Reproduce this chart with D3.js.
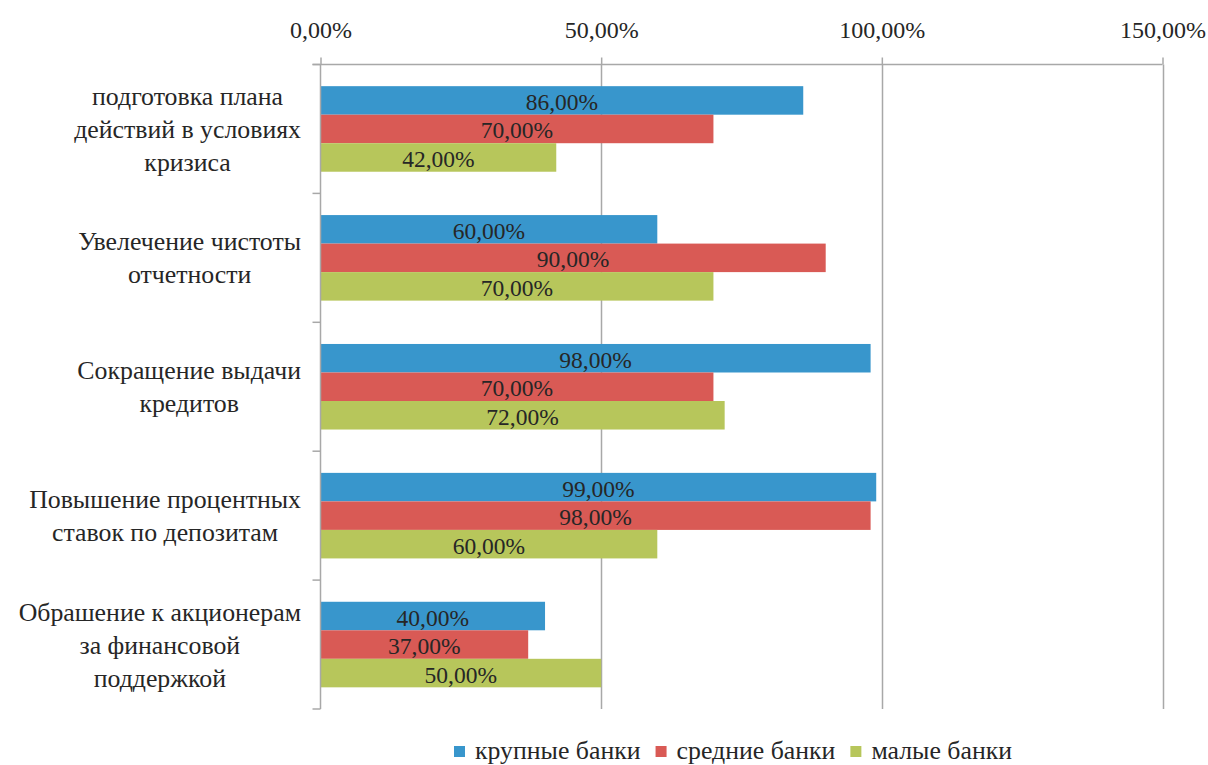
<!DOCTYPE html>
<html>
<head>
<meta charset="utf-8">
<script src="https://cdn.jsdelivr.net/npm/d3@7"></script>
</head>
<body style="margin:0;background:#fff">
<svg id="chart" width="1208" height="765"></svg>
<script>
// Categories (top to bottom), each split into display lines
const categories = [
  "подготовка плана действий в условиях кризиса",
  "Увелечение чистоты отчетности",
  "Сокращение выдачи кредитов",
  "Повышение процентных ставок по депозитам",
  "Обрашение к акционерам за финансовой поддержкой"
];
const categoryLines = [
  ["подготовка плана", "действий в условиях", "кризиса"],
  ["Увелечение чистоты", "отчетности"],
  ["Сокращение выдачи", "кредитов"],
  ["Повышение процентных", "ставок по депозитам"],
  ["Обрашение к акционерам", "за финансовой", "поддержкой"]
];
const seriesNames = ["крупные банки", "средние банки", "малые банки"];
const seriesColors = ["#3896cc", "#d95a55", "#b7c65b"];

// Values in percent, per series, in category order
const largeBanks  = [86, 60, 98, 99, 40];
const mediumBanks = [70, 90, 70, 98, 37];
const smallBanks  = [42, 70, 72, 60, 50];
const seriesValues = [largeBanks, mediumBanks, smallBanks];

const xTicks = [0, 50, 100, 150];

const svg = d3.select("#chart");
const fontFamily = '"Liberation Serif"';
const textColor = "#262626";

// Apply the shared text style to a selection of <text> elements
function textStyle(sel, size) {
  return sel.style("font-family", fontFamily)
    .style("font-size", size + "px")
    .style("fill", textColor);
}

const plotLeft = 320.5, plotRight = 1162.5, plotTop = 64.5, plotBottom = 709;

const x = d3.scaleLinear().domain([0, 150]).range([plotLeft, plotRight]);
const y0 = d3.scaleBand().domain(categories).range([plotTop, plotBottom]).padding(0);
const y1 = d3.scaleBand().domain(seriesNames).range([0, y0.bandwidth()])
  .paddingInner(0).paddingOuter(0.76);

const ru = d3.formatLocale({ decimal: ",", thousands: " ", grouping: [3], currency: ["", ""] });
const fmt = v => ru.format(".2f")(v) + "%";

const gridColor = "#a8a8a8";

// Vertical gridlines
svg.append("g").selectAll("line")
  .data(xTicks.filter(t => t > 0))
  .join("line")
  .attr("x1", d => Math.round(x(d)) + 0.5).attr("x2", d => Math.round(x(d)) + 0.5)
  .attr("y1", plotTop).attr("y2", plotBottom)
  .attr("stroke", gridColor).attr("stroke-width", 1.5);

// Bars
const groups = svg.append("g").selectAll("g")
  .data(categories)
  .join("g")
  .attr("transform", d => `translate(0,${y0(d)})`);

groups.each(function(cat, ci) {
  const g = d3.select(this);
  seriesNames.forEach((s, si) => {
    const v = seriesValues[si][ci];
    g.append("rect")
      .attr("x", x(0))
      .attr("y", y1(s))
      .attr("width", x(v) - x(0))
      .attr("height", y1.bandwidth())
      .attr("fill", seriesColors[si]);
  });
});

// Data labels centred in each bar
groups.each(function(cat, ci) {
  const g = d3.select(this);
  seriesNames.forEach((s, si) => {
    const v = seriesValues[si][ci];
    g.append("text")
      .attr("x", (x(0) + x(v)) / 2)
      .attr("y", y1(s) + y1.bandwidth() / 2 + 9.5)
      .attr("text-anchor", "middle")
      .call(textStyle, 23.5)
      .text(fmt(v));
  });
});

// Top value axis
const xAxis = d3.axisTop(x).tickValues(xTicks).tickSize(7).tickPadding(20).tickFormat(fmt);
const gx = svg.append("g").attr("transform", `translate(0,${plotTop})`).call(xAxis)
  .attr("font-family", null).attr("font-size", null);
gx.select(".domain").attr("stroke", gridColor).attr("stroke-width", 1.5)
  .attr("d", `M${plotLeft - 8},0H${plotRight}`);
gx.selectAll(".tick line").attr("stroke", gridColor).attr("stroke-width", 1.5);
gx.selectAll(".tick text").call(textStyle, 24);

// Left category axis (ticks at band boundaries)
const boundaries = categories.map(c => y0(c)).concat([plotBottom]);
svg.append("line")
  .attr("x1", plotLeft).attr("x2", plotLeft).attr("y1", plotTop).attr("y2", plotBottom)
  .attr("stroke", gridColor).attr("stroke-width", 1.5);
svg.append("g").selectAll("line")
  .data(boundaries)
  .join("line")
  .attr("x1", plotLeft - 8).attr("x2", plotLeft)
  .attr("y1", d => d).attr("y2", d => d)
  .attr("stroke", gridColor).attr("stroke-width", 1.5);

// Category labels: lines centred within a block right-aligned to the axis
const labelRight = 301, lineGap = 33;
categories.forEach((cat, ci) => {
  const lines = categoryLines[ci];
  const g = svg.append("g");
  const texts = lines.map(l => g.append("text").call(textStyle, 25.8).text(l));
  const maxW = d3.max(texts, t => t.node().getComputedTextLength());
  const cx = labelRight - maxW / 2;
  const cy = y0(cat) + y0.bandwidth() / 2;
  texts.forEach((t, li) => {
    t.attr("x", cx).attr("text-anchor", "middle")
     .attr("y", cy + (li - (lines.length - 1) / 2) * lineGap + 9);
  });
});

// Legend
const legend = svg.append("g");
let lx = 454;
seriesNames.forEach((s, si) => {
  legend.append("rect").attr("x", lx).attr("y", 746).attr("width", 11).attr("height", 11)
    .attr("fill", seriesColors[si]);
  const t = legend.append("text").attr("x", lx + 21).attr("y", 758.5)
    .call(textStyle, 25.8).text(s);
  lx += 21 + t.node().getComputedTextLength() + 15;
});
</script>
</body>
</html>
